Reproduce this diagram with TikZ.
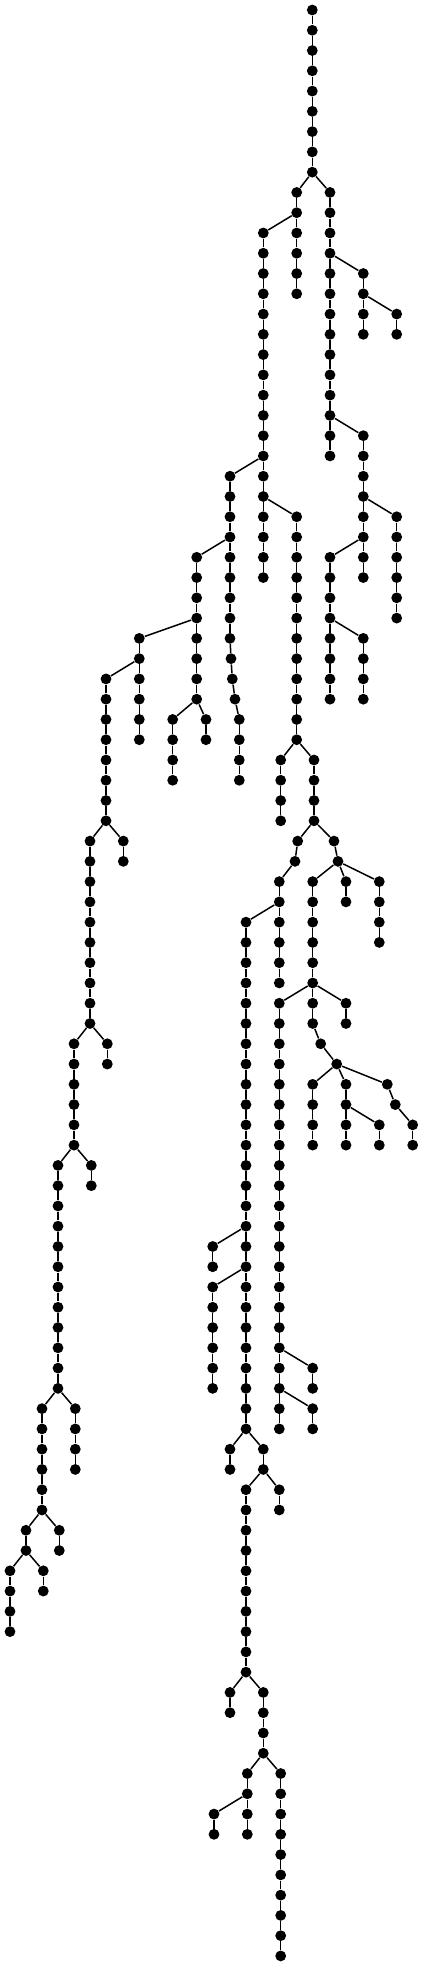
\documentclass[tikz,border=0pt]{standalone}
\usepackage{tikz}
\usetikzlibrary{positioning}

\tikzset{
  vtx/.style={circle,fill=black,inner sep=0pt,minimum size=5.4pt},
  lnk/.style={line width=0.75pt},
}
% nodes name-r at x, rows first..last, and the edges between them
\newcommand{\edgerun}[3]{%
  \foreach \r in {#2,...,#3}{%
    \ifnum\r>#2
      \pgfmathtruncatemacro{\q}{\r-1}%
      \draw[lnk] (#1-\q) -- (#1-\r);
    \fi}}
\newcommand{\vchain}[4]{%
  \foreach \r in {#3,...,#4}{\node[vtx] (#1-\r) at (#2,{10+20.27*\r}) {};}%
  \edgerun{#1}{#3}{#4}}
\newcommand{\vtx}[3]{\node[vtx] (#1-#2) at (#3,{10+20.27*#2}) {};}

\begin{document}
\begin{tikzpicture}[x=0.5pt,y=-0.5pt]
\useasboundingbox (0,0) rectangle (423,1966);

%trunk and right part
\vchain{A}{312.3}{0}{8}
\vchain{B}{296.7}{9}{14}
\vchain{C}{330}{9}{22}
\vchain{D}{263.3}{11}{28}
\vchain{E}{363.3}{13}{16}
\vchain{F}{396.7}{15}{16}
\vchain{G}{363.3}{21}{28}
\vchain{H}{396.7}{25}{30}
\vchain{I}{330}{27}{34}
\vchain{J}{363.3}{31}{34}
\vchain{L}{296.7}{25}{36}
\vchain{M}{280.7}{37}{40}
\vchain{N}{314}{37}{40}

%left part
\vchain{K}{230}{23}{31}
\foreach \r/\x in {32/231,33/232.3,34/235,35/239.3,36/239.3,37/239.3,38/239.3}
  {\node[vtx] (K-\r) at (\x,{10+20.27*\r}) {};}
\edgerun{K}{31}{38}
\vchain{O}{196.7}{27}{34}
\vchain{P}{139.3}{31}{36}
\vchain{Q}{172.7}{35}{38}
\vchain{R}{206}{35}{36}
\vchain{S}{106}{33}{40}
\vchain{T}{90}{41}{50}
\vchain{U}{123.3}{41}{42}
\vchain{V}{74}{51}{56}
\vchain{W}{107.3}{51}{52}
\vchain{X}{58}{57}{68}
\vchain{Y}{91.3}{57}{58}
\vchain{Z}{42}{69}{74}
\vchain{AA}{75.3}{69}{72}
\vchain{AB}{26}{75}{76}
\vchain{AC}{59.3}{75}{76}
\vchain{AD}{10}{77}{80}
\vchain{AE}{43.3}{77}{78}

%lower right part
\vtx{NL}{41}{297.7}
\vtx{NL}{42}{295}
\vchain{NL}{279.3}{43}{48}
\edgerun{NL}{41}{43}
\vtx{NR}{41}{334}
\vtx{NR}{42}{338}
\edgerun{NR}{41}{42}
\vchain{AG}{312.7}{43}{50}
\vtx{AG}{51}{320.7}
\vtx{AG}{52}{336.7}
\edgerun{AG}{50}{52}
\vchain{AH}{346}{43}{44}
\vchain{AI}{379.3}{43}{46}
\vchain{AF}{246}{45}{70}
\vchain{AJ}{279.3}{49}{70}
\vchain{AK}{346}{49}{50}
\vchain{AL}{312.7}{67}{68}
\vchain{AM}{312.7}{69}{70}
\vchain{AN}{312.7}{53}{56}
\vchain{AO}{346}{53}{56}
\vtx{AP}{53}{387.3}
\vtx{AP}{54}{395.3}
\vchain{AP}{412.7}{55}{56}
\edgerun{AP}{53}{55}
\vchain{AQ}{379.3}{55}{56}
\vchain{AR}{212.7}{61}{62}
\vchain{AS}{212.7}{63}{68}
\vchain{AT}{230}{71}{72}
\vchain{AU}{263.3}{71}{72}
\vchain{AV}{246}{73}{82}
\vchain{AW}{279.3}{73}{74}
\vchain{AX}{230}{83}{84}
\vchain{AY}{263.3}{83}{86}
\vchain{AZ}{247.3}{87}{90}
\vchain{BA}{280.7}{87}{96}
\vchain{BB}{214}{89}{90}

%branches
\foreach \p/\c in {A-8/B-9, A-8/C-9, B-10/D-11, C-12/E-13, E-14/F-15,
    C-20/G-21, G-24/H-25, G-26/I-27, I-30/J-31, D-22/K-23, D-24/L-25,
    L-36/M-37, L-36/N-37, K-26/O-27, O-30/P-31, O-34/Q-35, O-34/R-35,
    P-32/S-33, S-40/T-41, S-40/U-41, T-50/V-51, T-50/W-51, V-56/X-57,
    V-56/Y-57, X-68/Z-69, X-68/AA-69, Z-74/AB-75, Z-74/AC-75,
    AB-76/AD-77, AB-76/AE-77, N-40/NL-41, N-40/NR-41, NR-42/AG-43,
    NR-42/AH-43, NR-42/AI-43, NL-44/AF-45, AG-48/AJ-49, AG-48/AK-49,
    AG-52/AN-53, AG-52/AO-53, AG-52/AP-53, AO-54/AQ-55, AJ-66/AL-67,
    AJ-68/AM-69, AF-60/AR-61, AF-62/AS-63, AF-70/AT-71, AF-70/AU-71,
    AU-72/AV-73, AU-72/AW-73, AV-82/AX-83, AV-82/AY-83, AY-86/AZ-87,
    AY-86/BA-87, AZ-88/BB-89}
  \draw[lnk] (\p) -- (\c);

\end{tikzpicture}
\end{document}
